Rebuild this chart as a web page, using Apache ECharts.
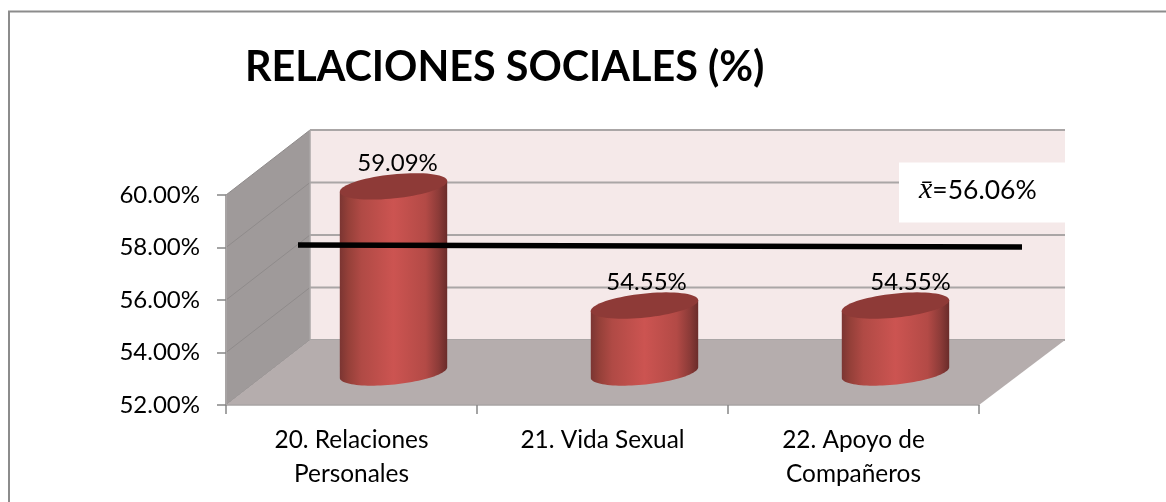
<!DOCTYPE html>
<html>
<head>
<meta charset="utf-8">
<style>html,body{margin:0;padding:0;background:#fff}#c{width:1166px;height:502px}</style>
<script src="https://cdn.jsdelivr.net/npm/echarts@6/dist/echarts.min.js"></script>
</head>
<body>
<div id="c"></div>
<script>
const categories = ['20. Relaciones\nPersonales', '21. Vida Sexual', '22. Apoyo de\nCompañeros'];
const values = [59.09, 54.55, 54.55];
const meanValue = 56.06;
const yMin = 52, yMax = 60, yStep = 2;
const titleText = 'RELACIONES SOCIALES (%)';

const FONT = 'Lato, "Open Sans", sans-serif';
const DX = 84, DY = -65;               // depth of the 3D box
const A = 54, B = 12, TH = 6 * Math.PI / 180; // cylinder ellipse

function ell(cx, cy, t) {
  const u = A * Math.cos(t), v = B * Math.sin(t);
  return [cx + u * Math.cos(TH) + v * Math.sin(TH), cy - u * Math.sin(TH) + v * Math.cos(TH)];
}
function ellPts(cx, cy, from, to, n) {
  const p = [];
  for (let i = 0; i <= n; i++) p.push(ell(cx, cy, from + (to - from) * i / n));
  return p;
}
const lineStyle = (c, w) => ({ stroke: c, lineWidth: w, fill: null });

function renderBox(params, api) {
  if (params.dataIndex !== 0) return null;
  const cs = params.coordSys;
  const L = cs.x, R = cs.x + cs.width;
  const yOf = v => api.coord([0, v])[1];
  const y0 = yOf(yMin), y1 = yOf(yMax);
  const RB = R + DX + 2;
  const kids = [];
  kids.push({ type: 'polygon', shape: { points: [[L + DX, y1 + DY], [RB, y1 + DY], [RB, y0 + DY], [L + DX, y0 + DY]] },
    style: { fill: '#f5e9e9' } });
  kids.push({ type: 'polygon', shape: { points: [[L, y1], [L + DX, y1 + DY], [L + DX, y0 + DY], [L, y0]] },
    style: { fill: '#9f9a9a' } });
  for (let v = yMin; v <= yMax; v += yStep) {
    const y = yOf(v);
    kids.push({ type: 'line', shape: { x1: L, y1: y, x2: L + DX, y2: y + DY }, style: lineStyle('#8f8b8b', 1) });
    kids.push({ type: 'line', shape: { x1: L + DX, y1: y + DY, x2: RB, y2: y + DY }, style: lineStyle('#aaa6a6', 2) });
  }
  kids.push({ type: 'polygon', shape: { points: [[L, y0], [L + DX, y0 + DY], [RB, y0 + DY], [R, y0]] },
    style: { fill: '#b5adad' } });
  kids.push({ type: 'line', shape: { x1: L + DX, y1: y1 + DY, x2: L + DX, y2: y0 + DY }, style: lineStyle('#aaa6a6', 1.5) });
  kids.push({ type: 'line', shape: { x1: L, y1: y1, x2: L, y2: y0 }, style: lineStyle('#a8a4a4', 2) });
  return { type: 'group', children: kids };
}

function renderCyl(params, api) {
  const c = api.coord([api.value(0), api.value(1)]);
  const b = api.coord([api.value(0), yMin]);
  const cx = c[0] + DX / 2, top = c[1] + DY / 2, base = b[1] + DY / 2;
  const body = ellPts(cx, base, 0, Math.PI, 48);
  body.push(ell(cx, top, Math.PI), ell(cx, top, 0));
  const grad = { type: 'linear', x: 0, y: 0, x2: 1, y2: 0, colorStops: [
    { offset: 0, color: '#7b3532' }, { offset: 0.08, color: '#954039' }, { offset: 0.2, color: '#b04a45' },
    { offset: 0.5, color: '#cc5451' }, { offset: 0.8, color: '#b34a46' }, { offset: 0.92, color: '#8c3b38' },
    { offset: 1, color: '#6a2c2a' }] };
  const nudge = [4, 2, 15][params.dataIndex];
  return { type: 'group', children: [
    { type: 'polygon', shape: { points: body }, style: { fill: grad } },
    { type: 'polygon', shape: { points: ellPts(cx, top, 0, Math.PI * 2, 72) }, style: { fill: '#8e3a37' } },
    { type: 'text', x: cx + nudge, y: top - 23, style: { text: api.value(1).toFixed(2) + '%', font: '24px ' + FONT, fill: '#000', align: 'center', verticalAlign: 'middle' } }
  ] };
}

function renderMean(params, api) {
  const cs = params.coordSys;
  const y = api.coord([0, api.value(0)])[1];
  const L = cs.x, R = cs.x + cs.width;
  return { type: 'group', children: [
    { type: 'line', shape: { x1: L + 72, y1: y - 53.5, x2: R + 43, y2: y - 51.5 }, style: { stroke: '#000', lineWidth: 5.5 } },
    { type: 'rect', shape: { x: R - 80, y: y - 136, width: DX + 82, height: 60 }, style: { fill: '#fff' } },
    { type: 'text', x: R - 60, y: y - 108, style: {
        rich: { i: { fontFamily: '"Liberation Serif", serif', fontStyle: 'italic', fontSize: 30, fill: '#000' },
                n: { fontFamily: 'Lato, sans-serif', fontSize: 26.5, fill: '#000' } },
        text: '{i|x\u0304}{n|=' + api.value(0).toFixed(2) + '%}', align: 'left', verticalAlign: 'middle' } }
  ] };
}

const chart = echarts.init(document.getElementById('c'), null, { renderer: 'canvas' });
chart.setOption({
  animation: false,
  backgroundColor: '#fff',
  title: { text: titleText, left: 245, top: 47, padding: 0,
    textStyle: { fontFamily: FONT, fontWeight: 'bold', fontSize: 41.3, color: '#000' } },
  grid: { left: 226, right: 187, top: 195, bottom: 97 },
  xAxis: { type: 'category', data: categories, z: 5,
    axisLine: { show: true, lineStyle: { color: '#a8a4a4', width: 1.5 } },
    axisTick: { show: true, length: 9, lineStyle: { color: '#868686', width: 1.5 } },
    axisLabel: { fontFamily: FONT, fontSize: 24.4, color: '#000', margin: 18, lineHeight: 34, interval: 0 } },
  yAxis: { type: 'value', min: yMin, max: yMax, interval: yStep, z: 5,
    axisLine: { show: true, lineStyle: { color: '#a8a4a4', width: 1.5 } },
    axisTick: { show: true, length: 9, lineStyle: { color: '#868686', width: 1.5 } },
    splitLine: { show: false },
    axisLabel: { fontFamily: FONT, fontSize: 24, color: '#000', margin: 26, formatter: v => v.toFixed(2) + '%' } },
  graphic: [{ type: 'polyline', silent: true, shape: { points: [[9, 502], [9, 11.5], [1166, 11.5]] },
    style: { stroke: '#8c8c8c', lineWidth: 2, fill: null } }],
  series: [
    { type: 'custom', name: 'box', renderItem: renderBox, data: [[0, yMin]], z: 1, silent: true },
    { type: 'custom', name: 'Relaciones', renderItem: renderCyl, data: values.map((v, i) => [i, v]), z: 2, silent: true },
    { type: 'custom', name: 'Media', renderItem: renderMean, data: [[meanValue]], encode: { y: 0 }, z: 3, silent: true }
  ]
});
</script>
</body>
</html>
